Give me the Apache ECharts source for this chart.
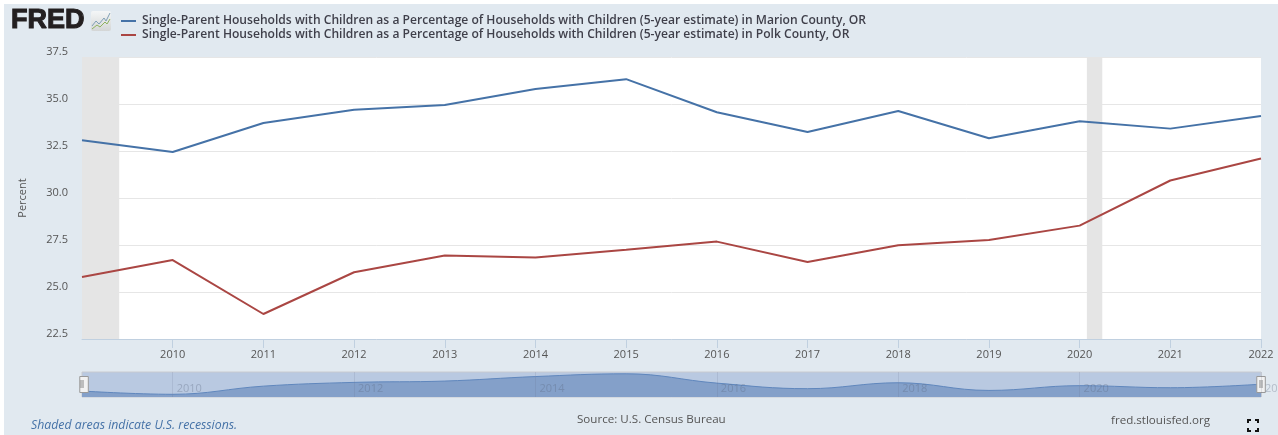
<!DOCTYPE html>
<html>
<head>
<meta charset="utf-8">
<title>FRED single-parent households</title>
<script src="https://cdn.jsdelivr.net/npm/echarts@6/dist/echarts.min.js"></script>
<style>
  html, body { margin: 0; padding: 0; background: #fff; }
  #chart { width: 1278px; height: 435px; }
</style>
</head>
<body>
<div id="chart"></div>
<script>
// data
const years = [2009, 2010, 2011, 2012, 2013, 2014, 2015, 2016, 2017, 2018, 2019, 2020, 2021, 2022]
const marion = [33.07, 32.45, 33.99, 34.70, 34.95, 35.80, 36.32, 34.56, 33.51, 34.63, 33.18, 34.08, 33.69, 34.36]
const polk = [25.80, 26.70, 23.83, 26.05, 26.94, 26.83, 27.25, 27.68, 26.60, 27.49, 27.77, 28.53, 30.93, 32.10]
const recessionStart = [2009, 2020.08]
const recessionEnd = [2009.41, 2020.25]
const navLabelYears = [2010, 2012, 2014, 2016, 2018, 2020, 2022]
const marionName = 'Single-Parent Households with Children as a Percentage of Households with Children (5-year estimate) in Marion County, OR'
const polkName = 'Single-Parent Households with Children as a Percentage of Households with Children (5-year estimate) in Polk County, OR'

const pairs = vals => vals.map((v, i) => [years[i], v])
const FONT = '"Open Sans", sans-serif'
const bands = recessionStart.map((s, i) => [{ xAxis: s }, { xAxis: recessionEnd[i] }])

// small helper for the footer / header texts
const label = (x, y, text, size, color, extra) => ({
  type: 'text', x, y,
  style: Object.assign({ text, font: `${size}px ${FONT}`, fill: color, textVerticalAlign: 'middle' }, extra || {})
})
const corner = pts => ({ type: 'polyline', shape: { points: pts }, style: { stroke: '#111', lineWidth: 2, fill: null } })
const grip = x => ({ type: 'line', z: 20, shape: { x1: x, y1: 380, x2: x, y2: 388 }, style: { stroke: '#888', lineWidth: 1 } })

const chart = echarts.init(document.getElementById('chart'))

chart.setOption({
  animation: false,
  textStyle: { fontFamily: FONT },
  legend: {
    data: [marionName, polkName],
    orient: 'vertical',
    left: 121, top: 15,
    itemWidth: 15, itemHeight: 2, itemGap: 2,
    icon: 'rect',
    selectedMode: false,
    padding: 0,
    textStyle: { fontFamily: FONT, fontSize: 12.1, fontWeight: 600, color: '#3f3f4a', padding: [0, 0, 0, 1], lineHeight: 12 }
  },
  grid: [
    { left: 82, top: 57, width: 1179, height: 282, show: true, backgroundColor: '#fff', borderWidth: 0 },
    { left: 82, top: 372, width: 1179, height: 25, show: true, backgroundColor: '#b9c9e1', borderColor: '#c8cad0', borderWidth: 1 }
  ],
  xAxis: [
    {
      type: 'value', gridIndex: 0, min: 2009, max: 2022, interval: 1,
      axisLine: { show: true, lineStyle: { color: '#c0d0e0' } },
      axisTick: { show: true, length: 9, lineStyle: { color: '#c0d0e0' }, customValues: years.slice(1) },
      axisLabel: {
        color: '#555', fontSize: 11, margin: 10, showMinLabel: true, showMaxLabel: true,
        formatter: v => (v === 2009 ? '' : String(v))
      },
      splitLine: { show: false }
    },
    {
      type: 'value', gridIndex: 1, min: 2009, max: 2022, interval: 1,
      axisLine: { show: false }, axisTick: { show: false }, axisLabel: { show: false }, splitLine: { show: false }
    }
  ],
  yAxis: [
    {
      type: 'value', gridIndex: 0, min: 22.5, max: 37.5, interval: 2.5,
      name: 'Percent', nameLocation: 'middle', nameGap: 54,
      nameTextStyle: { color: '#555', fontSize: 11 },
      axisLine: { show: false }, axisTick: { show: false },
      axisLabel: { color: '#555', fontSize: 11, margin: 14, verticalAlign: 'bottom', formatter: v => v.toFixed(1) },
      splitLine: { show: true, lineStyle: { color: '#e6e6e6' } }
    },
    {
      type: 'value', gridIndex: 1, min: 31.94, max: 36.66,
      axisLine: { show: false }, axisTick: { show: false }, axisLabel: { show: false }, splitLine: { show: false }
    }
  ],
  dataZoom: [{
    type: 'slider', xAxisIndex: 0, filterMode: 'none', start: 0, end: 100,
    left: 82, width: 1179, top: 372, height: 25,
    showDetail: false, showDataShadow: false, brushSelect: false, moveHandleSize: 0,
    backgroundColor: 'transparent', fillerColor: 'transparent', borderColor: 'transparent',
    handleIcon: 'path://M0,0H8V15H0Z', handleSize: 16,
    handleStyle: { color: '#f2f2f2', borderColor: '#999', borderWidth: 1 }
  }],
  series: [
    {
      name: marionName, type: 'line', data: pairs(marion), symbol: 'none', z: 3,
      lineStyle: { color: '#4572a7', width: 2 }, itemStyle: { color: '#4572a7' },
      markArea: { silent: true, itemStyle: { color: '#e5e5e5' }, data: bands }
    },
    {
      name: polkName, type: 'line', data: pairs(polk), symbol: 'none', z: 3,
      lineStyle: { color: '#aa4643', width: 2 }, itemStyle: { color: '#aa4643' }
    },
    {
      name: 'navigator', type: 'line', xAxisIndex: 1, yAxisIndex: 1, data: pairs(marion), symbol: 'none',
      smooth: 0.4, silent: true, z: 1,
      lineStyle: { color: '#6087bd', width: 1 },
      areaStyle: { color: '#84a0c9', opacity: 1 },
      markLine: {
        silent: true, symbol: 'none', label: { show: false },
        lineStyle: { color: 'rgba(90,100,125,0.14)', type: 'solid', width: 1 },
        data: navLabelYears.map(y => ({ xAxis: y }))
      }
    },
    {
      // year labels of the navigator sit on top of the area
      name: 'navigator labels', type: 'scatter', xAxisIndex: 1, yAxisIndex: 1, symbolSize: 0, silent: true, z: 6,
      clip: false,
      data: navLabelYears.map(y => [y, 33.4]),
      label: {
        show: true, position: 'right', distance: 4, fontSize: 11, color: 'rgba(90,100,125,0.42)',
        formatter: p => String(p.value[0])
      }
    }
  ],
  graphic: [
    { type: 'rect', z: -10, shape: { x: 4, y: 4, width: 1274, height: 431 }, style: { fill: '#e1e9f0' } },
    // logo
    label(11, 21, 'FRED', 27, '#231f20', { font: `bold 27px "Liberation Sans", sans-serif`, stroke: '#231f20', lineWidth: 1.1 }),
    { type: 'rect', shape: { x: 91, y: 11, width: 20, height: 20, r: 2 },
      style: { fill: new echarts.graphic.LinearGradient(0, 0, 0, 1, [{ offset: 0, color: '#f4f6f7' }, { offset: 1, color: '#d4d6d6' }]) } },
    { type: 'polyline', shape: { points: [[92, 26], [96, 21], [99, 24], [104, 18], [106, 21], [110, 13]] }, style: { stroke: '#7f9fb5', lineWidth: 1, fill: null } },
    { type: 'polyline', shape: { points: [[92, 29], [97, 25], [100, 27], [105, 22], [107, 24], [110, 19]] }, style: { stroke: '#8fb35f', lineWidth: 1, fill: null } },
    // footer
    label(31, 425, 'Shaded areas indicate U.S. recessions.', 12, '#4572a7', { font: `italic 12.3px ${FONT}` }),
    label(577, 420, 'Source: U.S. Census Bureau', 11.6, '#555'),
    label(1111, 421, 'fred.stlouisfed.org', 11.6, '#555'),
    // fullscreen icon
    corner([[1248, 423], [1248, 420], [1251, 420]]),
    corner([[1255, 420], [1258, 420], [1258, 423]]),
    corner([[1248, 428], [1248, 431], [1251, 431]]),
    corner([[1255, 431], [1258, 431], [1258, 428]]),
    grip(81), grip(83), grip(1260), grip(1262)
  ]
})

window.addEventListener('resize', () => chart.resize())
</script>
</body>
</html>
